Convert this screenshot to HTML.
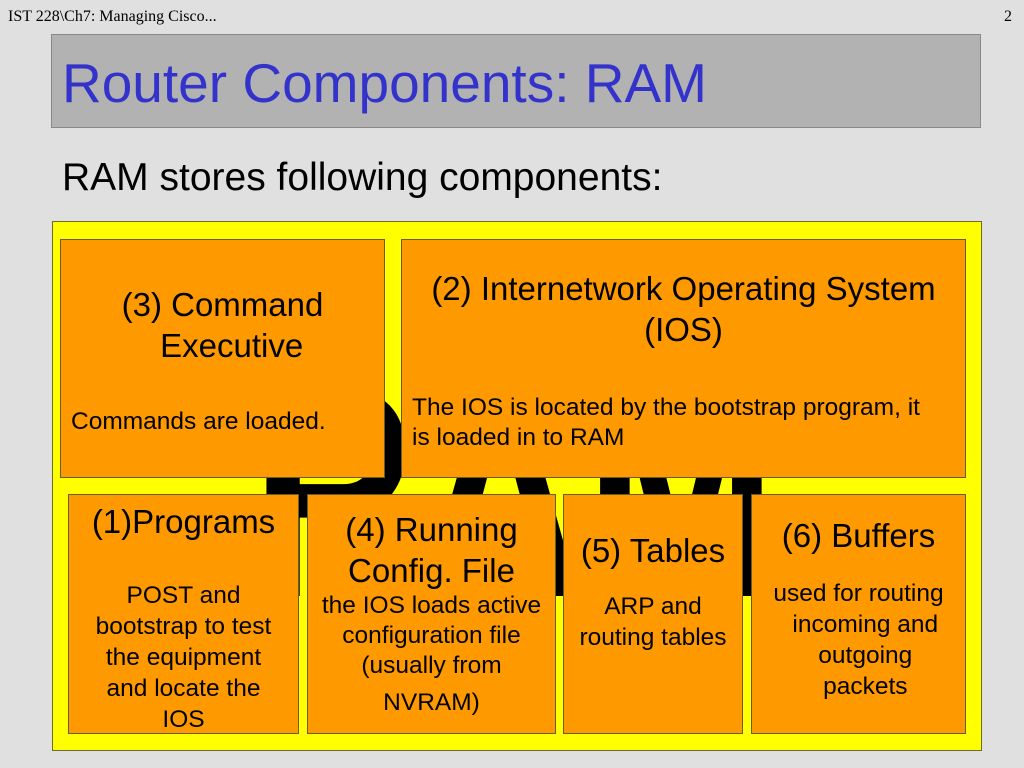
<!DOCTYPE html>
<html><head><meta charset="utf-8"><style>
body{margin:0;width:1024px;height:768px;background:#e0e0e0;position:relative;overflow:hidden;font-family:"Liberation Sans",sans-serif;}
.a{position:absolute;}
.hdr{font-family:"Liberation Serif",serif;font-size:16px;top:8px;}
.b{position:absolute;background:#ff9900;border:1px solid #6b5a2a;box-sizing:border-box;color:#000;text-align:center;white-space:nowrap;}
.t{font-size:33px;line-height:41px;}
.s{font-size:24.5px;line-height:31px;}
</style></head><body>
<div class="a hdr" style="left:8px">IST 228\Ch7: Managing Cisco...</div>
<div class="a hdr" style="left:1004px">2</div>
<div class="a" style="left:51px;top:34px;width:930px;height:94px;background:#b2b2b2;border:1px solid #8a8a8a;box-sizing:border-box"></div>
<div class="a" style="left:62px;top:52px;font-size:55px;line-height:62px;color:#3333cc;white-space:nowrap">Router Components: RAM</div>
<div class="a" style="left:62px;top:155px;font-size:39px;line-height:46px;color:#000;white-space:nowrap">RAM stores following components:</div>
<div class="a" style="left:52px;top:221px;width:930px;height:530px;background:#ffff00;border:1px solid #6b6b2a;box-sizing:border-box;overflow:hidden">
<div class="a" style="left:198px;top:120px;font-size:300px;line-height:300px;font-weight:bold;color:#000;transform:scaleX(0.77);transform-origin:left;white-space:nowrap">RAM</div>
</div>
<div class="b" style="left:60px;top:239px;width:325px;height:239px">
<div class="t" style="margin-top:44px">(3) Command<br>&nbsp;&nbsp;Executive</div>
<div class="s" style="text-align:left;margin:40px 0 0 10px">Commands are loaded.</div></div>
<div class="b" style="left:401px;top:239px;width:565px;height:239px">
<div class="t" style="margin-top:28px">(2) Internetwork Operating System<br>(IOS)</div>
<div class="s" style="text-align:left;margin:43px 0 0 10px;line-height:30px">The IOS is located by the bootstrap program, it<br>is loaded in to RAM</div></div>
<div class="b" style="left:68px;top:494px;width:231px;height:240px">
<div class="t" style="margin-top:6px">(1)Programs</div>
<div class="s" style="margin-top:38px">POST and<br>bootstrap to test<br>the equipment<br>and locate the<br>IOS</div></div>
<div class="b" style="left:307px;top:494px;width:249px;height:240px">
<div class="t" style="margin-top:14px">(4) Running<br>Config. File</div>
<div class="s" style="line-height:30px">the IOS loads active<br>configuration file<br>(usually from<br><span style="line-height:44px">NVRAM)</span></div></div>
<div class="b" style="left:563px;top:494px;width:180px;height:240px">
<div class="t" style="margin-top:35px">(5) Tables</div>
<div class="s" style="margin-top:20px">ARP and<br>routing tables</div></div>
<div class="b" style="left:751px;top:494px;width:215px;height:240px">
<div class="t" style="margin-top:20px">(6) Buffers</div>
<div class="s" style="margin-top:22px">used for routing<br>&nbsp;&nbsp;incoming and<br>&nbsp;&nbsp;outgoing<br>&nbsp;&nbsp;packets</div></div>
</body></html>
